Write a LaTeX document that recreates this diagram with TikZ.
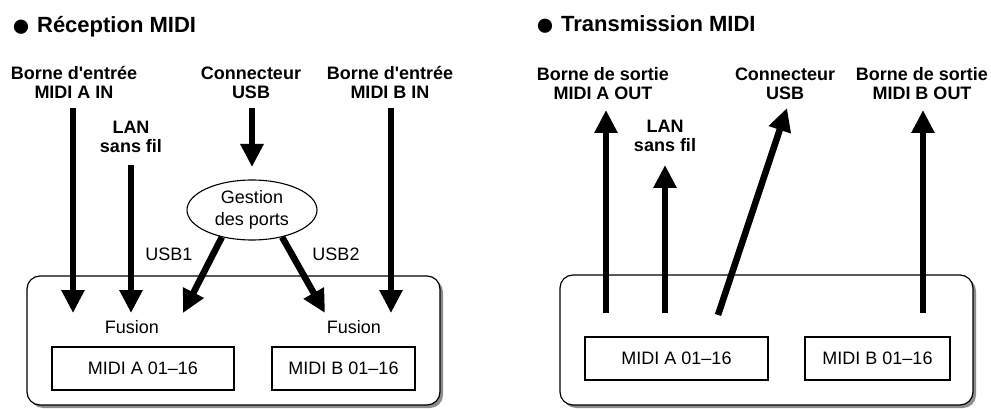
\documentclass[tikz,border=0pt]{standalone}
\usepackage{fontspec}
\setmainfont{Liberation Sans}[Ligatures=TeXOff]
\usetikzlibrary{arrows.meta,shapes.geometric,shadows}
\newcommand{\bigdot}{\raisebox{-3.5pt}{\fontsize{33}{33}\selectfont ●}}
\begin{document}
\begin{tikzpicture}[x=1pt,y=-1pt,
  lbl/.style={font=\fontsize{18}{19}\selectfont\bfseries, align=center, anchor=base, inner sep=0pt},
  txt/.style={font=\fontsize{18}{19}\selectfont, anchor=base, inner sep=0pt},
  ttl/.style={font=\fontsize{22}{24}\selectfont\bfseries, anchor=base west, inner sep=0pt},
  flow/.style={line width=6.5pt, -{Triangle[width=22pt,length=23pt]}},
  chan/.style={draw, line width=1.1pt, minimum height=43pt, inner sep=0pt, font=\fontsize{18}{19}\selectfont},
  panel/.style={draw, line width=1.2pt, rounded corners=13pt, fill=white, inner sep=0pt,
    drop shadow={shadow xshift=3pt, shadow yshift=-3pt, fill=black!45, opacity=1}},
  port/.style={draw, ellipse, line width=1.1pt, minimum width=130pt, minimum height=60pt, inner sep=0pt,
    align=center, font=\fontsize{18}{22}\selectfont}
]
\useasboundingbox (0,0) rectangle (991,409);

% ---------- Reception ----------
\node[ttl] (t1) at (11,33) {\bigdot\hspace{6pt}Réception MIDI};
\node[panel, minimum width=413pt, minimum height=129pt] (pl) at (233.5,340.5) {};
\node[chan, minimum width=182pt] (ma) at (143,368.5) {MIDI A 01–16};
\node[chan, minimum width=143pt] (mb) at (343.5,368.5) {MIDI B 01–16};
\node[txt] (f1) at (132,333) {Fusion};
\node[txt] (f2) at (354,333) {Fusion};

\node[lbl] (ain) at (74,99) {Borne d'entrée\\MIDI A IN};
\node[lbl] (usbin) at (251,99) {Connecteur\\USB};
\node[lbl] (bin) at (390,99) {Borne d'entrée\\MIDI B IN};
\node[lbl] (lanin) at (131,153) {LAN\\sans fil};
\node[port] (gp) at (252,210) {Gestion\\des ports};
\node[txt] (u1) at (169,260) {USB1};
\node[txt] (u2) at (336,260) {USB2};

\coordinate (ainS) at (73,108);   \coordinate (ainE) at (73,313);
\coordinate (lanS) at (131,165);  \coordinate (lanE) at (131,313);
\coordinate (usbS) at (252,108);  \coordinate (usbE) at (252,167);
\coordinate (binS) at (391,108);  \coordinate (binE) at (391,313);
\coordinate (u1E) at (183,313);   \coordinate (u2E) at (325,313);

\draw[flow] (ainS) -- (ainE);
\draw[flow] (lanS) -- (lanE);
\draw[flow] (usbS) -- (usbE);
\draw[flow] (binS) -- (binE);
\draw[flow] (gp.222) -- (u1E);
\draw[flow] (gp.318) -- (u2E);

% ---------- Transmission ----------
\node[ttl] (t2) at (535,32) {\bigdot\hspace{6pt}Transmission MIDI};
\node[panel, minimum width=413pt, minimum height=130pt] (pr) at (766.5,340) {};
\node[chan, minimum width=183pt] (ra) at (676.5,358.5) {MIDI A 01–16};
\node[chan, minimum width=145pt] (rb) at (877.5,358.5) {MIDI B 01–16};

\node[lbl] (aout) at (603,100) {Borne de sortie\\MIDI A OUT};
\node[lbl] (usbout) at (785,100) {Connecteur\\USB};
\node[lbl] (bout) at (922,100) {Borne de sortie\\MIDI B OUT};
\node[lbl] (lanout) at (665,152) {LAN\\sans fil};

\coordinate (aoS) at (606,313);   \coordinate (aoE) at (606,110);
\coordinate (loS) at (665,313);   \coordinate (loE) at (665,165);
\coordinate (uoS) at (718,315);   \coordinate (uoE) at (787,108);
\coordinate (boS) at (923,313);   \coordinate (boE) at (923,110);

\draw[flow] (aoS) -- (aoE);
\draw[flow] (loS) -- (loE);
\draw[flow] (uoS) -- (uoE);
\draw[flow] (boS) -- (boE);
\end{tikzpicture}
\end{document}
